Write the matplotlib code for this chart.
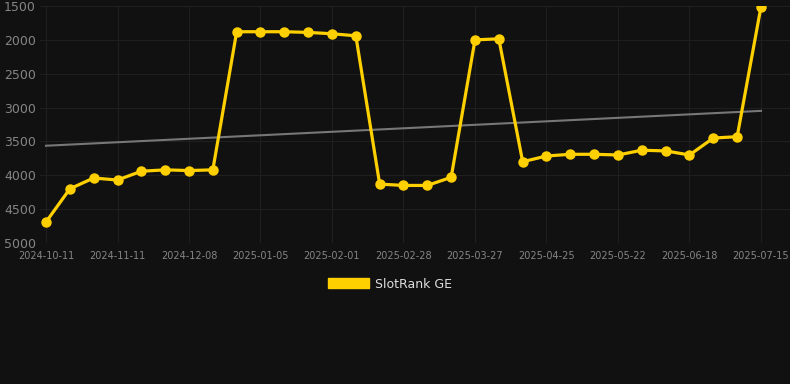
import matplotlib
matplotlib.use("Agg")
import matplotlib.pyplot as plt
import numpy as np

dates = ["2024-10-11", "2024-10-20", "2024-10-30", "2024-11-11", "2024-11-20", "2024-11-29",
         "2024-12-08", "2024-12-17", "2024-12-27", "2025-01-05", "2025-01-14", "2025-01-23",
         "2025-02-01", "2025-02-10", "2025-02-19", "2025-02-28", "2025-03-09", "2025-03-18",
         "2025-03-27", "2025-04-05", "2025-04-15", "2025-04-25", "2025-05-04", "2025-05-13",
         "2025-05-22", "2025-05-31", "2025-06-09", "2025-06-18", "2025-06-27", "2025-07-06",
         "2025-07-15"]
ranks = [4690, 4200, 4040, 4070, 3940, 3920, 3930, 3920, 1880, 1880, 1880, 1890,
         1910, 1940, 4130, 4150, 4150, 4030, 2000, 1985, 3800, 3715, 3690, 3690,
         3700, 3630, 3640, 3700, 3450, 3430, 1510]
yticks = [1500, 2000, 2500, 3000, 3500, 4000, 4500, 5000]
series_name = "SlotRank GE"

bg = "#111111"
fig = plt.figure(figsize=(7.9, 3.84), dpi=100, facecolor=bg)
ax = fig.add_axes([40/790, 1 - 243/384, 750/790, (243 - 6)/384])
ax.set_facecolor(bg)

x = np.arange(len(ranks))
# trend line (linear regression)
coef = np.polyfit(x, ranks, 1)
ax.plot([x[0], x[-1]], np.polyval(coef, [x[0], x[-1]]), color="#777777", lw=1.5, zorder=2)

ax.plot(x, ranks, color="#FFD000", lw=2.3, marker="o", markersize=6.5, zorder=3,
        solid_joinstyle="round")

ax.set_ylim(5000, 1500)
ax.set_yticks(yticks)
ax.set_yticklabels([str(t) for t in yticks])
step = 23.83
ax.set_xlim(-6/step, 30 + 29/step)
tick_idx = list(range(0, len(dates), 3))
ax.set_xticks(tick_idx)
ax.set_xticklabels([dates[i] for i in tick_idx])

ax.grid(True, color="#1f1f1f", lw=0.8, zorder=0)
for s in ax.spines.values():
    s.set_visible(False)
ax.tick_params(axis="y", colors="#858585", labelsize=9, length=0, pad=3)
ax.tick_params(axis="x", colors="#858585", labelsize=7, length=0, pad=6)

# legend
handle = plt.Rectangle((0, 0), 1, 1, color="#FFD000")
leg = fig.legend([handle], [series_name], loc="center", bbox_to_anchor=(390/790, 1 - 284/384),
                 frameon=False, fontsize=9, handlelength=3.3, handleheight=0.9,
                 handletextpad=0.5)
for t in leg.get_texts():
    t.set_color("#dddddd")

fig.savefig("out.png", dpi=100, facecolor=bg)
